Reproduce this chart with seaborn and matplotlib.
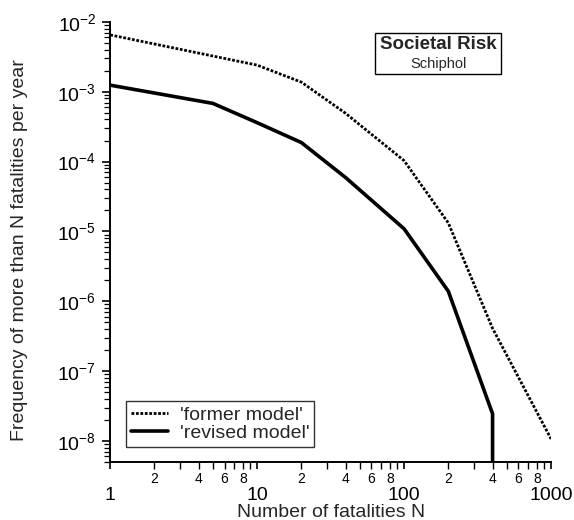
import numpy as np
import pandas as pd
import matplotlib
matplotlib.use("Agg")
import matplotlib.pyplot as plt
import seaborn as sns
from matplotlib.patches import Rectangle
from matplotlib.ticker import LogFormatterMathtext, LogLocator, NullFormatter

# FN curves
former_n = [1, 10, 20, 40, 100, 200, 400, 1000]
former_freq = [6.5e-3, 2.4e-3, 1.37e-3, 4.9e-4, 1.03e-4, 1.32e-5, 4.1e-7, 1.07e-8]

revised_n = [1, 5, 10, 20, 40, 100, 200, 400, 400]
revised_freq = [1.24e-3, 6.8e-4, 3.6e-4, 1.87e-4, 5.9e-5, 1.09e-5, 1.39e-6, 2.45e-8, 1e-12]

x_minor_ticks = [2, 3, 4, 5, 6, 7, 8, 9, 20, 30, 40, 50, 60, 70, 80, 90,
                 200, 300, 400, 500, 600, 700, 800, 900]
x_minor_labels = ['2', '', '4', '', '6', '', '8', '',
                  '2', '', '4', '', '6', '', '8', '',
                  '2', '', '4', '', '6', '', '8', '']
x_major_ticks = [1, 10, 100, 1000]
x_major_labels = ['1', '10', '100', '1000']
y_major_ticks = [1e-8, 1e-7, 1e-6, 1e-5, 1e-4, 1e-3, 1e-2]

sns.set_style("ticks")
plt.rcParams['font.family'] = ['Liberation Sans', 'DejaVu Sans']
plt.rcParams['mathtext.fontset'] = 'custom'
plt.rcParams['mathtext.rm'] = 'Liberation Sans'
plt.rcParams['mathtext.it'] = 'Liberation Sans:italic'

fig = plt.figure(figsize=(5.74, 5.20), dpi=100)
ax = fig.add_axes([0.192, 0.1115, 0.768, 0.8465])

former = pd.DataFrame({'N': former_n, 'freq': former_freq})
revised = pd.DataFrame({'N': revised_n, 'freq': revised_freq})

sns.lineplot(data=former, x='N', y='freq', ax=ax, color='black', lw=2.0,
             linestyle=(0, (1, 0.6)), estimator=None, sort=False,
             label="'former model'")
sns.lineplot(data=revised, x='N', y='freq', ax=ax, color='black', lw=2.6,
             estimator=None, sort=False, label="'revised model'")

ax.set_xscale('log')
ax.set_yscale('log')
ax.set_xlim(1, 1000)
ax.set_ylim(5e-9, 1e-2)

sns.despine(ax=ax)
for side in ['left', 'bottom']:
    ax.spines[side].set_linewidth(1.4)
    ax.spines[side].set_color('black')

# x ticks: big labels on decades, small ones on 2, 4, 6, 8
ax.set_xticks(x_major_ticks)
ax.set_xticklabels(x_major_labels, fontsize=14)
ax.set_xticks(x_minor_ticks, minor=True)
ax.set_xticklabels(x_minor_labels, minor=True, fontsize=10)
ax.tick_params(axis='x', which='major', direction='out', length=5, width=1.2,
               pad=13, colors='black')
ax.tick_params(axis='x', which='minor', direction='out', length=5, width=1.0,
               pad=2, colors='black')

# y ticks
ax.set_yticks(y_major_ticks)
ax.yaxis.set_major_formatter(LogFormatterMathtext())
ax.yaxis.set_minor_locator(LogLocator(base=10, subs=np.arange(2, 10), numticks=12))
ax.yaxis.set_minor_formatter(NullFormatter())
ax.tick_params(axis='y', which='major', direction='out', length=6, width=1.2,
               labelsize=14, pad=4, colors='black')
ax.tick_params(axis='y', which='minor', direction='out', length=4, width=0.9,
               colors='black')

ax.set_xlabel('Number of fatalities N', fontsize=14, labelpad=0)
ax.set_ylabel('Frequency of more than N fatalities per year', fontsize=14)
ax.yaxis.set_label_coords(-0.186, 0.482)

leg = ax.legend(loc='lower left', bbox_to_anchor=(0.036, 0.034), fontsize=14,
                handlelength=1.9, frameon=True, fancybox=False,
                borderpad=0.25, labelspacing=0.05, handletextpad=0.6,
                borderaxespad=0)
leg.get_frame().set_edgecolor('black')
leg.get_frame().set_linewidth(1.0)

# title box in the upper right
ax.add_patch(Rectangle((0.601, 0.882), 0.286, 0.093, transform=ax.transAxes,
                       fill=False, ec='black', lw=1.0, clip_on=False))
ax.text(0.744, 0.948, 'Societal Risk', transform=ax.transAxes, ha='center',
        va='center', fontsize=13.5, fontweight='bold')
ax.text(0.744, 0.905, 'Schiphol', transform=ax.transAxes, ha='center',
        va='center', fontsize=10.5)

fig.savefig('out.png', dpi=100)
